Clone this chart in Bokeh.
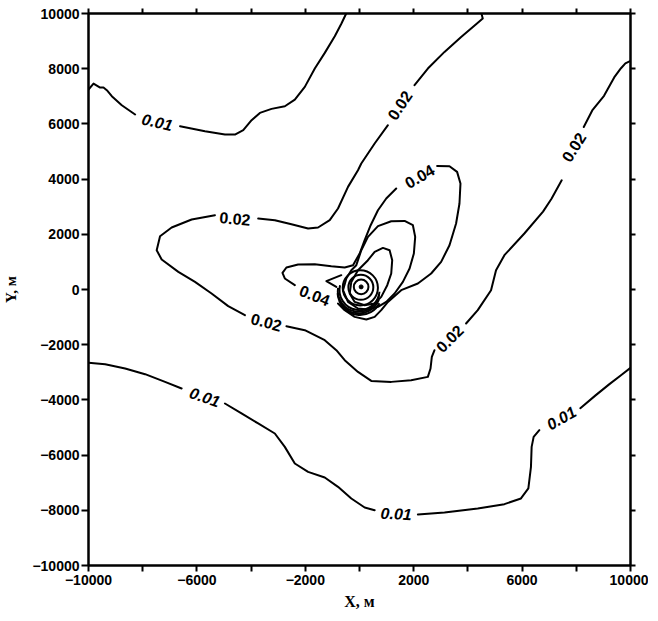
import math
from bokeh.plotting import figure
from bokeh.models import LinearAxis, FixedTicker, Range1d
from bokeh.core.properties import value
from bokeh.embed import file_html
from bokeh.resources import INLINE

# ---------------- data (metres) ----------------
y_ticks = [-10000, -8000, -6000, -4000, -2000, 0, 2000, 4000, 6000, 8000, 10000]
x_major_ticks = [-10000, -6000, -2000, 2000, 6000, 10000]
x_minor_ticks = [-8000, -4000, 0, 4000, 8000]

# level 0.01, upper curve
c01u_1_x = [-10000, -9815, -9693, -9570, -9447, -9324, -9140, -8772, -8280]
c01u_1_y = [7245, 7462, 7390, 7317, 7317, 7220, 7003, 6677, 6339]
c01u_2_x = [-6622, -5701, -4965, -4596, -4289, -3982, -3675, -3246, -2754, -2386, -2018, -1649, -1281, -912, -666, -490]
c01u_2_y = [5916, 5735, 5614, 5614, 5771, 6133, 6399, 6544, 6640, 6882, 7341, 8006, 8573, 9177, 9636, 10000]

# level 0.01, lower curve
c01l_1_x = [-10000, -9385, -8648, -7912, -7175, -6564]
c01l_1_y = [-2658, -2706, -2862, -3068, -3347, -3586]
c01l_2_x = [-4965, -4354, -3739, -3124, -2756, -2387, -1897, -1282, -793, -302, 191, 559]
c01l_2_y = [-4130, -4492, -4854, -5217, -5702, -6304, -6608, -6811, -7151, -7571, -7898, -7996]
c01l_3_x = [2154, 3137, 4364, 5347, 5958, 6231, 6327, 6352, 6426, 6636]
c01l_3_y = [-8151, -8079, -7934, -7778, -7571, -7209, -6426, -5702, -5340, -5097]
c01l_4_x = [8149, 8710, 9211, 9649, 10000]
c01l_4_y = [-4300, -3836, -3438, -3104, -2837]

# level 0.02
c02_1_x = [4500, 4548, 4302, 3750, 3137, 2522, 2031]
c02_1_y = [10000, 9819, 9612, 9152, 8609, 8007, 7402]
c02_2_x = [1049, 559, 66, -56, -424, -793, -1099, -1529, -1897, -2511, -3124, -3739]
c02_2_y = [5953, 5290, 4565, 4323, 3718, 2935, 2511, 2247, 2210, 2366, 2511, 2573]
c02_3_x = [-5334, -6194, -6932, -7360, -7484, -7300, -6685, -6071, -5459, -4844, -4229]
c02_3_y = [2692, 2537, 2247, 1932, 1424, 1087, 638, 276, -144, -604, -931]
c02_4_x = [-2697, -2019, -1282, -855, -546, -56, 434, 1171, 1907, 2522, 2621, 2669, 2768]
c02_4_y = [-1329, -1474, -1836, -2199, -2561, -2985, -3311, -3347, -3286, -3166, -2862, -2441, -2199]
c02_5_x = [3933, 4364, 4854, 5038, 5347, 6083, 6772, 7085, 7461]
c02_5_y = [-1231, -749, -25, 700, 1243, 2029, 2823, 3290, 3957]
c02_6_x = [8275, 8588, 9023, 9398, 9649, 9811, 10000]
c02_6_y = [5888, 6486, 7018, 7685, 8018, 8192, 8283]

# level 0.04
c04_1_x = [2865, 3321, 3601, 3726, 3689, 3564, 3321, 3012, 2644, 2154, 1539, 1049, 802, 559, 251, -178, -546, -793]
c04_1_y = [4479, 4468, 4261, 3841, 3116, 2392, 1605, 1000, 580, 218, -25, -449, -749, -992, -1086, -992, -749, -507]
c04_2_x = [-2387, -2756, -2842, -2697, -2266, -1650, -1040, -546, -240, 6, 191, 412, 681, 987, 1355]
c04_2_y = [156, 399, 602, 798, 906, 917, 845, 798, 881, 1305, 1787, 2330, 2873, 3297, 3660]

# inner unlabelled levels
in1_x = [-118, 66, 312, 681, 1171, 1664, 1970, 2055, 2006, 1848, 1601, 1295, 987, 681, 312, -56, -424, -608, -486, -302, -118]
in1_y = [881, 1424, 1906, 2294, 2475, 2486, 2330, 1906, 1305, 761, 276, -144, -449, -630, -724, -688, -449, -25, 399, 700, 881]
in2_x = [312, 559, 865, 1111, 1207, 1171, 1024, 802, 559, 191, -178, -362, -302, -56, 312]
in2_y = [1062, 1363, 1508, 1424, 1062, 580, 156, -268, -507, -568, -449, -144, 276, 700, 1062]
notch_x = [-671, -1223, -855]
notch_y = [519, 301, 95]

ring_x = [60, 50, 30, 0, -30, -20, 20]
ring_y = [95, 80, 60, -20, -50, -90, -130]
ring_r = [270, 460, 650, 740, 770, 790, 810]
ring_start = [0, 0, 0, 2.9, 3.0, 3.2, 3.5]
ring_end = [2 * math.pi, 2 * math.pi, 2 * math.pi, 6.2, 6.1, 5.9, 5.8]
source_x = [60]
source_y = [95]

lab01_x = [-7458, -5702, 1355, 7440]
lab01_y = [6073, -3891, -8115, -4650]
lab01_ang = [-13, -19, -3, 30]
lab02_x = [1480, -4597, -3433, 3322, 7899]
lab02_y = [6678, 2573, -1173, -1775, 5156]
lab02_ang = [56, -5, -15, 45, 58]
lab04_x = [2216, -1650]
lab04_y = [4105, -206]
lab04_ang = [30, -22]

# ---------------- figure ----------------
p = figure(frame_width=542, frame_height=552,
           x_range=Range1d(-10000, 10000), y_range=Range1d(-10000, 10000),
           output_backend="svg", toolbar_location=None,
           min_border_left=82, min_border_right=18, min_border_top=13, min_border_bottom=48,
           x_axis_label="X, м", y_axis_label="Y, м")
p.grid.visible = False
p.outline_line_color = "black"
p.outline_line_width = 2
p.background_fill_color = "white"
p.border_fill_color = "white"

p.xaxis.ticker = FixedTicker(ticks=x_major_ticks, minor_ticks=x_minor_ticks)
p.yaxis.ticker = FixedTicker(ticks=y_ticks)

for ax in (p.xaxis[0], p.yaxis[0]):
    ax.axis_line_width = 2
    ax.major_tick_line_width = 2
    ax.major_tick_in = 0
    ax.major_label_text_font = "Liberation Sans"
    ax.major_label_text_font_style = "bold"
    ax.major_label_text_font_size = "14px"
    ax.major_label_text_color = "black"
    ax.axis_label_text_font = "Liberation Serif"
    ax.axis_label_text_font_style = "bold"
    ax.axis_label_text_color = "black"
p.yaxis.minor_tick_line_color = None
p.xaxis.major_tick_out = 6
p.xaxis.minor_tick_out = 6
p.xaxis.minor_tick_in = 0
p.xaxis.minor_tick_line_width = 2
p.xaxis.minor_tick_line_color = "black"
p.xaxis.major_label_standoff = 3
p.xaxis.axis_label_standoff = 5
p.xaxis.axis_label_text_font_size = "16px"
p.yaxis.major_tick_out = 7
p.yaxis.major_label_standoff = 2
p.yaxis.axis_label_standoff = 10
p.yaxis.axis_label_text_font_size = "15px"

for side in ("above", "right"):
    ax = LinearAxis(ticker=FixedTicker(ticks=y_ticks))
    ax.axis_line_width = 2
    ax.major_tick_line_width = 2
    ax.major_tick_in = 0
    ax.major_tick_out = 5
    ax.minor_tick_line_color = None
    ax.major_label_text_font_size = "0px"
    ax.major_label_text_color = None
    ax.major_label_standoff = 0
    p.add_layout(ax, side)

lw = 2
segs = [
    (c01u_1_x, c01u_1_y), (c01u_2_x, c01u_2_y),
    (c01l_1_x, c01l_1_y), (c01l_2_x, c01l_2_y), (c01l_3_x, c01l_3_y), (c01l_4_x, c01l_4_y),
    (c02_1_x, c02_1_y), (c02_2_x, c02_2_y), (c02_3_x, c02_3_y), (c02_4_x, c02_4_y),
    (c02_5_x, c02_5_y), (c02_6_x, c02_6_y),
    (c04_1_x, c04_1_y), (c04_2_x, c04_2_y),
    (in1_x, in1_y), (in2_x, in2_y), (notch_x, notch_y),
]
p.multi_line(xs=[s[0] for s in segs], ys=[s[1] for s in segs], line_color="black",
             line_width=lw, line_join="round", line_cap="round")

p.arc(x=ring_x, y=ring_y, radius=ring_r, start_angle=ring_start, end_angle=ring_end,
      line_color="black", line_width=lw)
p.scatter(x=source_x, y=source_y, size=4, color="black")

def labels(xs, ys, angs, txt, style):
    p.text(x=xs, y=ys, text=[txt] * len(xs), angle=[math.radians(a) for a in angs],
           text_align="center", text_baseline="middle", text_font=value("Liberation Sans"),
           text_font_size="16px", text_font_style=style, text_color="black")

labels(lab01_x, lab01_y, lab01_ang, "0.01", "bold italic")
labels(lab02_x, lab02_y, lab02_ang, "0.02", "bold")
labels(lab04_x, lab04_y, lab04_ang, "0.04", "bold")

open("out.html", "w").write(file_html(p, INLINE))
